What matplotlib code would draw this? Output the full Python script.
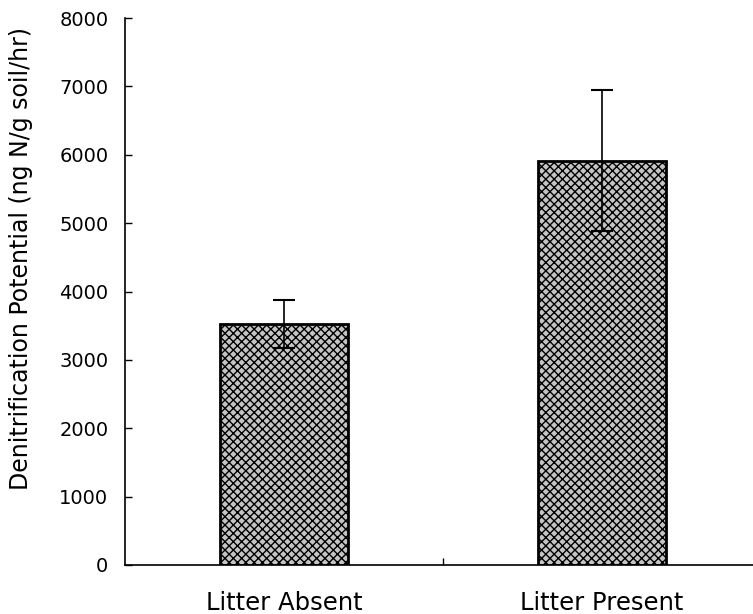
import matplotlib
matplotlib.use("Agg")
import matplotlib.pyplot as plt
import numpy as np

categories = ["Litter Absent", "Litter Present"]
values = [3520, 5910]
errors = [350, 1030]
yticks = [0, 1000, 2000, 3000, 4000, 5000, 6000, 7000, 8000]

plt.rcParams['font.family'] = ['DejaVu Sans']
plt.rcParams['hatch.color'] = '#4a4a4a'
plt.rcParams['hatch.linewidth'] = 1.0

fig = plt.figure(figsize=(7.53, 6.14), dpi=100)
ax = fig.add_axes([125/753, 1-565/614, (761-125)/753, (565-18)/614])

x = np.arange(len(categories))
ax.bar(x, values, width=0.4, color='#c4c4c4', edgecolor='black', linewidth=2,
       hatch='xxxx', zorder=2)
ax.errorbar(x, values, yerr=errors, fmt='none', ecolor='black', elinewidth=1.2,
            capsize=8, capthick=1.5, zorder=3)

ax.set_xlim(-0.5, 1.5)
ax.set_ylim(0, 8000)
ax.set_yticks(yticks)
ax.set_yticklabels([str(t) for t in yticks], fontsize=14)
ax.tick_params(axis='y', direction='in', length=5, width=1, pad=12)
ax.set_xticks(x)
ax.set_xticklabels(categories, fontsize=17.5)
ax.tick_params(axis='x', which='major', length=0, pad=19)
ax.set_xticks([0.5, 1.5], minor=True)
ax.tick_params(axis='x', which='minor', direction='in', length=5, width=1)

for s in ['top', 'right']:
    ax.spines[s].set_visible(False)
for s in ['left', 'bottom']:
    ax.spines[s].set_linewidth(1.2)

ax.set_ylabel("Denitrification Potential (ng N/g soil/hr)", fontsize=17)
ax.yaxis.set_label_coords(-0.145, 0.56)

fig.savefig("out.png", dpi=100)
